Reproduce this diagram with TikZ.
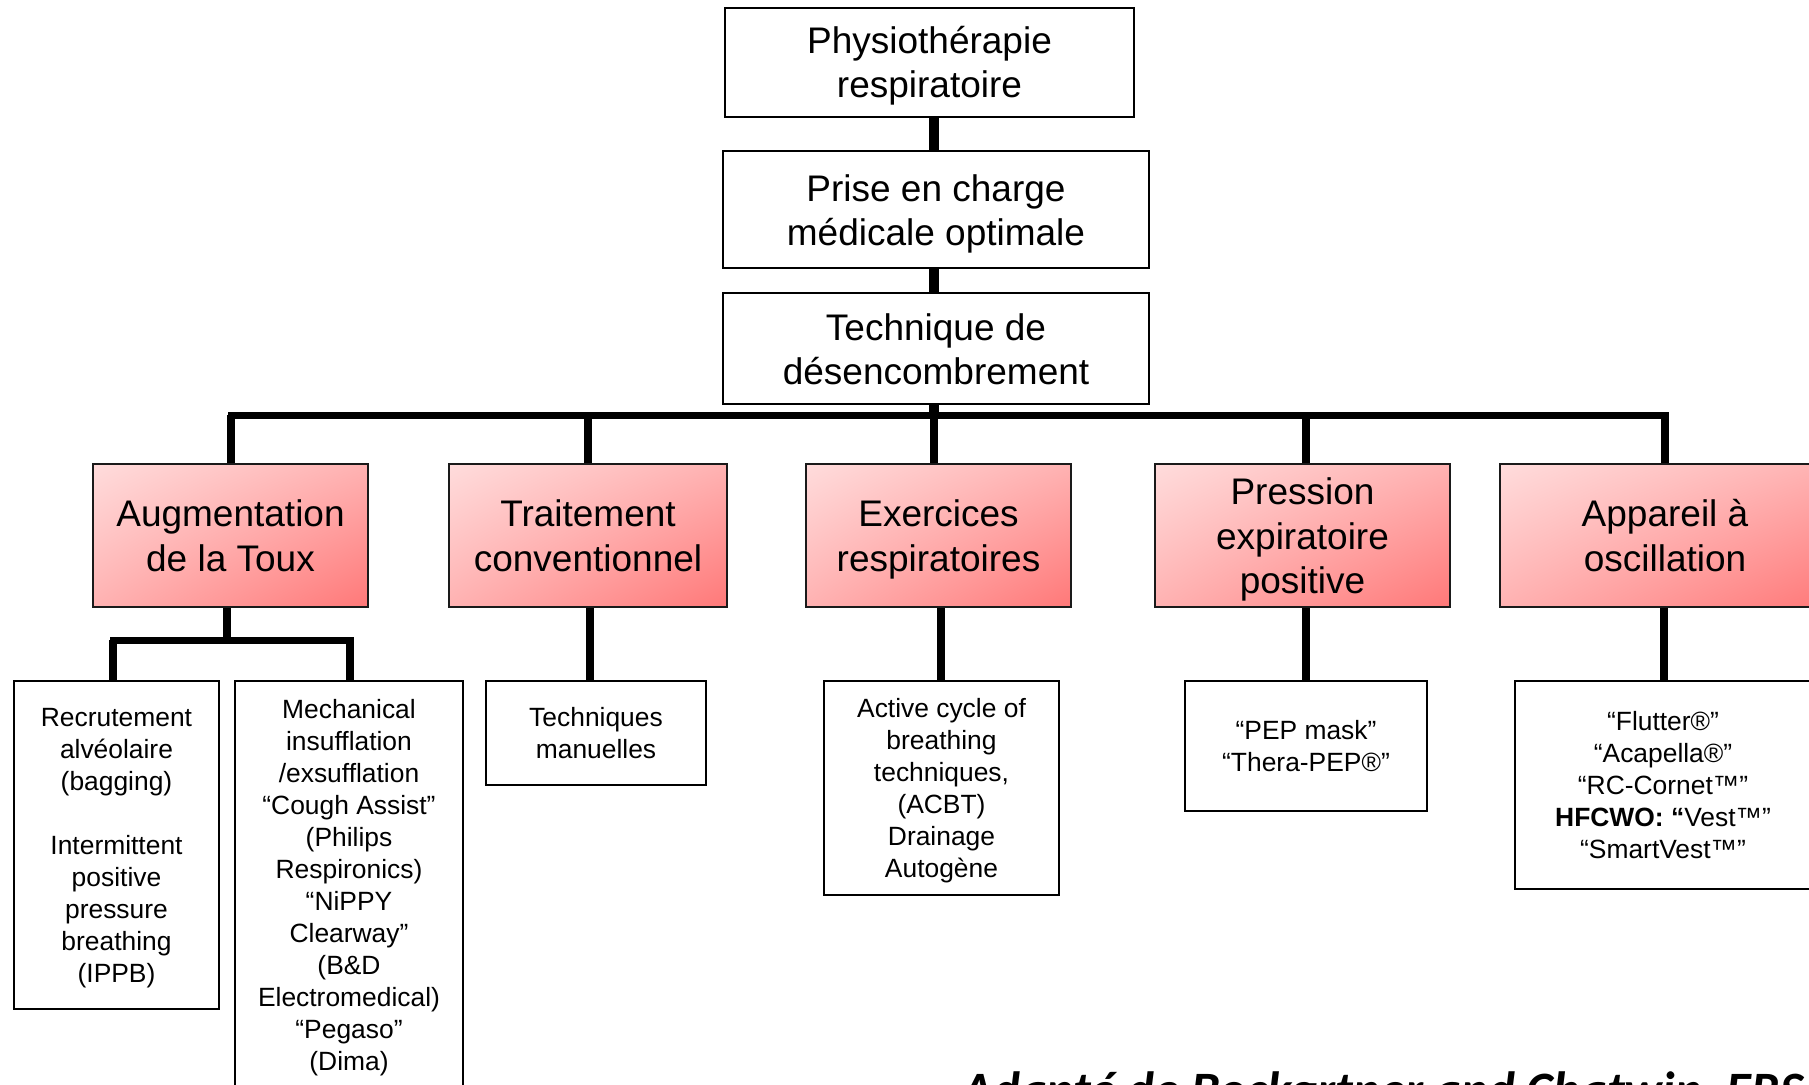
\documentclass[tikz,border=0pt]{standalone}
\usepackage{fontspec}
\usetikzlibrary{shadings}
\setmainfont{Liberation Sans}
\newfontfamily\notefont{Carlito}
\definecolor{pinkA}{HTML}{FFDCDC}
\definecolor{pinkB}{HTML}{FFB2B2}
\definecolor{pinkC}{HTML}{FF7878}
\definecolor{edge}{HTML}{1A1A1A}
% struts that set the top and bottom of every label block
\newcommand{\bigtop}{\rule{0pt}{40.5pt}}
\newcommand{\smalltop}{\rule{0pt}{28.5pt}}
\begin{document}
\begin{tikzpicture}[x=1pt,y=-1pt,
  topbox/.style={draw=black, line width=2pt, inner sep=0pt, align=center,
    font=\fontsize{37}{44}\selectfont},
  catbox/.style={draw=edge, line width=2pt, inner sep=0pt, align=center,
    upper left=pinkA, upper right=pinkB, lower left=pinkB, lower right=pinkC,
    minimum height=143pt, font=\fontsize{37}{44.5}\selectfont},
  leafbox/.style={draw=black, line width=2pt, inner sep=0pt, align=center,
    font=\fontsize{26.4}{32}\selectfont},
  trunk/.style={line width=10pt},
  bar/.style={line width=7pt, line cap=rect},
  stub/.style={line width=8pt},
  branch/.style={line width=7pt, line cap=rect}]
\clip (0,0) rectangle (1809,1084);
\fill[white] (0,0) rectangle (1809,1084);

% main chain
\node[topbox, minimum width=409pt, minimum height=109pt] (b1) at (929.5,62)
  {\bigtop Physiothérapie\\respiratoire\strut};
\node[topbox, minimum width=426pt, minimum height=117pt] (b2) at (936,209.5)
  {\bigtop Prise en charge\\médicale optimale\strut};
\node[topbox, minimum width=426pt, minimum height=111pt] (b3) at (936,348.5)
  {\bigtop Technique de\\désencombrement\strut};

% categories
\node[catbox, minimum width=275pt] (cA) at (230.5,535.5) {\bigtop Augmentation\\de la Toux\strut};
\node[catbox, minimum width=278pt] (cT) at (588,535.5) {\bigtop Traitement\\conventionnel\strut};
\node[catbox, minimum width=265pt] (cE) at (938.5,535.5) {\bigtop Exercices\\respiratoires\strut};
\node[catbox, minimum width=295pt] (cP) at (1302.5,535.5) {\bigtop Pression\\expiratoire\\positive\strut};
\node[catbox, minimum width=330pt] (cO) at (1665,535.5) {\bigtop Appareil à\\oscillation\strut};

% leaves
\node[leafbox, minimum width=205pt, minimum height=328pt] (r1) at (116.5,845)
  {\smalltop Recrutement\\alvéolaire\\(bagging)\\[32pt]Intermittent\\positive\\pressure\\breathing\\(IPPB)\strut};
\node[leafbox, minimum width=228pt, minimum height=408pt] (r2) at (349,885)
  {\smalltop Mechanical\\insufflation\\/exsufflation\\“Cough Assist”\\(Philips\\Respironics)\\“NiPPY\\Clearway”\\(B\&D\\Electromedical)\\“Pegaso”\\(Dima)\strut};
\node[leafbox, minimum width=220pt, minimum height=104pt] (r3) at (596,733)
  {\smalltop Techniques\\manuelles\strut};
\node[leafbox, minimum width=235pt, minimum height=214pt] (r4) at (941.5,788)
  {\smalltop Active cycle of\\breathing\\techniques,\\(ACBT)\\Drainage\\Autogène\strut};
\node[leafbox, minimum width=242pt, minimum height=130pt] (r5) at (1306,746)
  {\smalltop “PEP mask”\\“Thera-PEP®”\strut};
\node[leafbox, minimum width=296pt, minimum height=208pt] (r6) at (1663,785)
  {\smalltop “Flutter®”\\“Acapella®”\\“RC-Cornet™”\\\textbf{HFCWO: “}Vest™”\\“SmartVest™”\strut};

% trunk down the chain
\coordinate (sE) at (934,415);
\draw[trunk] (b1.south -| sE) -- (b2.north -| sE);
\draw[trunk] (b2.south -| sE) -- (b3.north -| sE);
\draw[trunk] (b3.south -| sE) -- (sE);

% distribution bar and stubs
\coordinate (sA) at (231,415);
\coordinate (sT) at (588,415);
\coordinate (sP) at (1306,415);
\coordinate (sO) at (1665,415);
\draw[bar] (sA) -- (sO);
\foreach \s/\c in {sA/cA, sT/cT, sE/cE, sP/cP, sO/cO}
  \draw[stub] (\s) -- (\c.north -| \s);

% cough augmentation split
\coordinate (jA) at (227,640);
\coordinate (kL) at (113,640);
\coordinate (kR) at (350,640);
\draw[stub] (cA.south -| jA) -- (jA);
\draw[branch] (kL) -- (kR);
\draw[stub] (kL) -- (kL |- r1.north);
\draw[stub] (kR) -- (kR |- r2.north);

% single drops
\coordinate (dT) at (590,650);
\coordinate (dE) at (941,650);
\coordinate (dP) at (1306,650);
\coordinate (dO) at (1664,650);
\draw[stub] (cT.south -| dT) -- (r3.north -| dT);
\draw[stub] (cE.south -| dE) -- (r4.north -| dE);
\draw[stub] (cP.south -| dP) -- (r5.north -| dP);
\draw[stub] (cO.south -| dO) -- (r6.north -| dO);

% source note
\node[anchor=base west, inner sep=0pt,
  font=\notefont\bfseries\itshape\fontsize{51}{61}\selectfont] (src) at (962,1107)
  {Adapté de Bockgrtner and Chatwin, ERS};
\end{tikzpicture}
\end{document}
